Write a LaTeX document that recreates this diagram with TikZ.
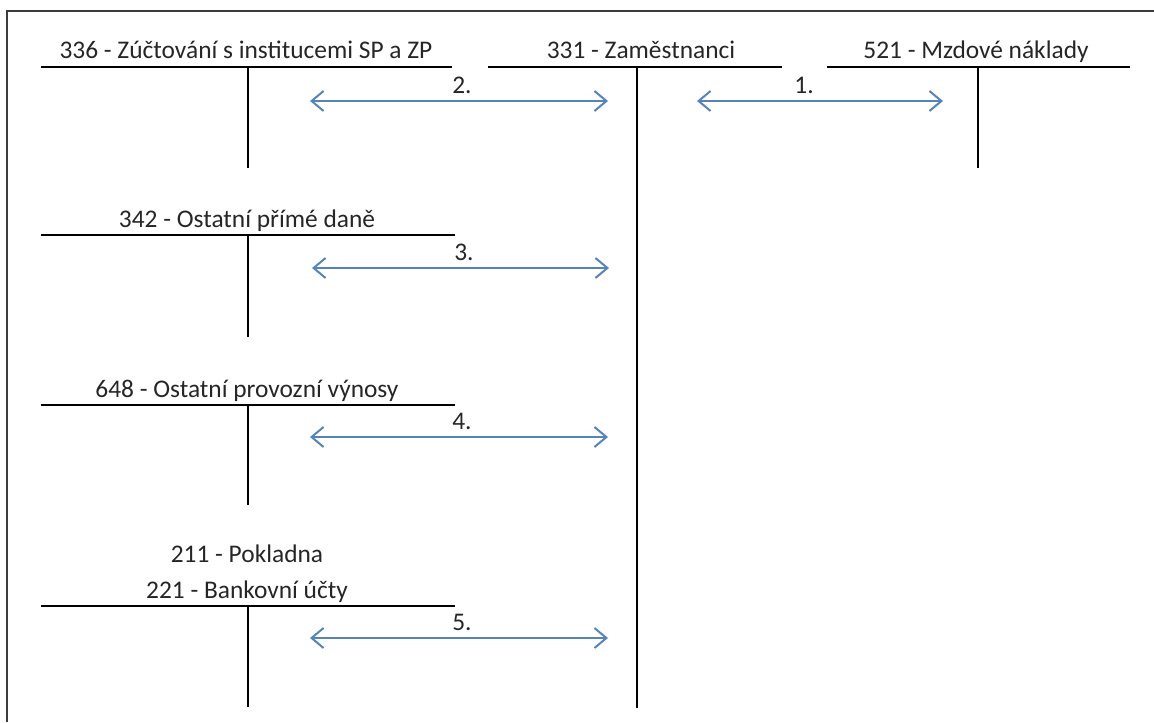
\documentclass[tikz,border=0pt]{standalone}
\usepackage{fontspec}
\setmainfont{Carlito}
\usetikzlibrary{arrows.meta}
\definecolor{flowblue}{RGB}{86,132,186}
\definecolor{framegray}{RGB}{60,60,60}

\begin{document}
\begin{tikzpicture}[x=0.5pt,y=-0.5pt,
acc_label/.style={inner sep=0pt,anchor=base,font=\fontsize{12.7}{15}\selectfont,text=black!85},
acc_line/.style={draw,line width=0.8pt},
flow/.style={draw,line width=1pt,flowblue,{Straight Barb[length=6pt,width=10pt]}-{Straight Barb[length=6pt,width=10pt]}}]

\useasboundingbox (0,0) rectangle (1154,722);
\draw[framegray,line width=1pt] (7,722) -- (7,11) -- (1154,11);

% accounts
\node[acc_label] (336) at (246,59) {336 - Zúčtování s institucemi SP a ZP};
\node[acc_label] (331) at (641,59) {331 - Zaměstnanci};
\node[acc_label] (521) at (976,59) {521 - Mzdové náklady};
\node[acc_label] (342) at (247,227) {342 - Ostatní přímé daně};
\node[acc_label] (648) at (247,397) {648 - Ostatní provozní výnosy};
\node[acc_label] (211) at (247,562) {211 - Pokladna};
\node[acc_label] (221) at (247,598) {221 - Bankovní účty};

\path[acc_line]
(41,67) -- (452,67) (248,67) -- (248,168)
(488,67) -- (782,67) (637,67) -- (637,708)
(827,67) -- (1130,67) (978,67) -- (978,168)
(41,235) -- (455,235) (248,235) -- (248,337)
(41,405) -- (455,405) (248,405) -- (248,505)
(41,606) -- (455,606) (248,606) -- (248,707)
;

% flows
\coordinate (f1l) at (697,101); \coordinate (f1r) at (943,101);
\coordinate (f2l) at (310,101); \coordinate (f2r) at (608,101);
\coordinate (f3l) at (312,268); \coordinate (f3r) at (609,268);
\coordinate (f4l) at (310,437); \coordinate (f4r) at (608,437);
\coordinate (f5l) at (310,638); \coordinate (f5r) at (608,638);

\node[acc_label] (n1) at (804,93) {1.};
\node[acc_label] (n2) at (462,93) {2.};
\node[acc_label] (n3) at (464,260) {3.};
\node[acc_label] (n4) at (462,429) {4.};
\node[acc_label] (n5) at (462,630) {5.};

\draw[flow] (f1l) -- (f1r);
\draw[flow] (f2l) -- (f2r);
\draw[flow] (f3l) -- (f3r);
\draw[flow] (f4l) -- (f4r);
\draw[flow] (f5l) -- (f5r);

\end{tikzpicture}
\end{document}
